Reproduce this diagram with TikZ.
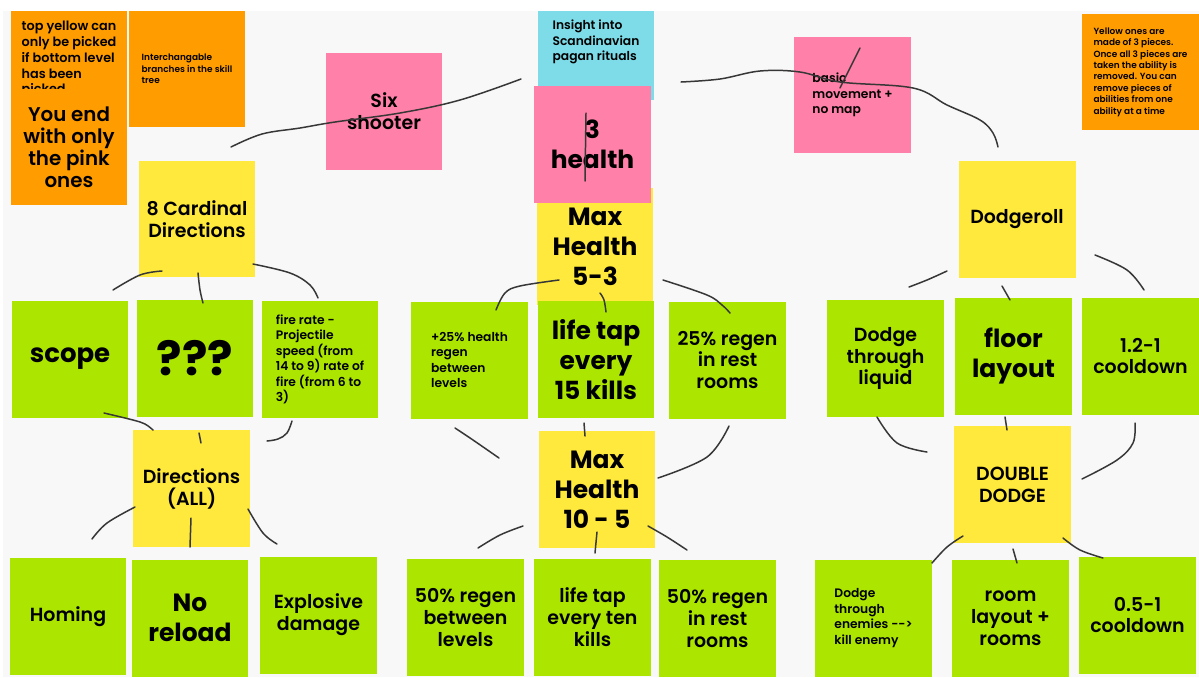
\documentclass[tikz,border=0pt]{standalone}
\usepackage{fontspec}
\setmainfont{Poppins}[BoldFont={* SemiBold}]
\newfontfamily\popB{Poppins Bold}
\definecolor{bggrey}{RGB}{248,248,248}
\definecolor{ngreen}{RGB}{172,230,0}
\definecolor{nyellow}{RGB}{255,233,61}
\definecolor{npink}{RGB}{255,128,169}
\definecolor{ncyan}{RGB}{125,220,232}
\definecolor{norange}{RGB}{255,157,0}
\definecolor{ink}{RGB}{55,55,55}
\tikzset{
  note/.style={draw=none, minimum width=2.34cm, minimum height=2.34cm, inner sep=0pt, outer sep=0pt, text=black},
  gnote/.style={note, fill=ngreen},
  ynote/.style={note, fill=nyellow},
  pnote/.style={note, fill=npink},
  onote/.style={note, fill=norange},
  fXL/.style={font=\fontsize{14.2}{17}\selectfont\popB, align=center},
  fL/.style={font=\fontsize{10.8}{12.5}\selectfont\bfseries, align=center},
  fS/.style={font=\fontsize{7}{8.8}\selectfont\bfseries, align=left},
  fXS/.style={font=\fontsize{5.1}{6.5}\selectfont\bfseries, align=left},
  stroke/.style={draw=ink, line width=0.85pt, line cap=round, line join=round}
}
\begin{document}
\begin{tikzpicture}[x=0.02cm, y=-0.02cm]
\useasboundingbox (0,0) rectangle (1199,677);
\fill[white] (0,0) rectangle (1199,677);
\fill[bggrey] (3,11) rectangle (1199,677);
\begin{scope}
\clip (3,11) rectangle (1199,677);
% orange notes top left
\node[onote] (tyel) at (69,69) {};
\node[fS, anchor=north, font=\fontsize{7.3}{9}\selectfont\bfseries] (tyelt) at (69,15) {top yellow can\\only be picked\\if bottom level\\has been\\picked};
\node[onote, fXS] (inter) at (187,69) {Interchangable\\branches in the skill\\tree};
\node[onote, fL, font=\fontsize{11.3}{12.5}\selectfont\bfseries] (youend) at (69,147) {You end\\with only\\the pink\\ones};
% pink six shooter
\node[pnote, fL] (six) at (384,111.5) {Six\\shooter};
% cyan insight
\node[note, fill=ncyan, fS] (insight) at (596,42) {Insight into\\Scandinavian\\pagan rituals};
% max health 5-3
\node[ynote, fXL] (max53) at (595,246.5) {Max\\Health\\5-3};
% pink 3 health
\node[pnote, fXL] (three) at (592.5,144.5) {3\\health};
% pink basic movement
\node[pnote, fS] (basic) at (852.5,95) {basic\\movement +\\no map};
% orange right
\node[onote, fXS] (yellowones) at (1140.5,72) {Yellow ones are\\made of 3 pieces.\\Once all 3 pieces are\\taken the ability is\\removed. You can\\remove pieces of\\abilities from one\\ability at a time};
% yellow tops
\node[ynote, fL] (dodgeroll) at (1017,219.5) {Dodgeroll};
\node[ynote, fL] (cardinal) at (197,219) {8 Cardinal\\Directions};
% left column
\node[gnote, font=\fontsize{14.8}{17}\selectfont\popB] (scope) at (70,359) {scope};
\node[gnote, font=\fontsize{27}{30}\selectfont\popB] (qqq) at (195,358) {???};
\node[gnote, fS] (fire) at (320,359.5) {fire rate -\\Projectile\\speed (from\\14 to 9) rate of\\fire (from 6 to\\3)};
\node[ynote, fL] (dirall) at (191.5,488.5) {Directions\\(ALL)};
\node[gnote, fL] (homing) at (68,616.5) {Homing};
\node[gnote, fXL] (noreload) at (190,618) {No\\reload};
\node[gnote, fL] (explosive) at (318.5,615) {Explosive\\damage};
% middle column
\node[gnote, fS] (regen25) at (469.5,360) {+25\% health\\regen\\between\\levels};
\node[gnote, fXL] (lifetap15) at (596,359.5) {life tap\\every\\15 kills};
\node[gnote, fL] (rest25) at (727.5,360) {25\% regen\\in rest\\rooms};
\node[ynote, fXL] (max105) at (597,489.5) {Max\\Health\\10 - 5};
\node[gnote, fL] (regen50) at (465.5,617.5) {50\% regen\\between\\levels};
\node[gnote, fL] (lifetap10) at (592.5,617.5) {life tap\\every ten\\kills};
\node[gnote, fL] (rest50) at (717.5,618.5) {50\% regen\\in rest\\rooms};
% right column
\node[gnote, fL] (liquid) at (885.5,358.5) {Dodge\\through\\liquid};
\node[gnote, fXL] (floor) at (1013.5,356) {floor\\layout};
\node[gnote, fL] (cool12) at (1140.5,356) {1.2-1\\cooldown};
\node[ynote, fL] (double) at (1012.5,484.5) {DOUBLE\\DODGE};
\node[gnote, fS] (enemies) at (873.5,618) {Dodge\\through\\enemies -{}->\\kill enemy};
\node[gnote, fL] (room) at (1010.5,618) {room\\layout +\\rooms};
\node[gnote, fL] (cool05) at (1137.5,615) {0.5-1\\cooldown};
% hand-drawn strokes
\draw[stroke] plot[smooth, tension=0.6] coordinates {(231,147) (262,134) (300,128) (335,122) (400,113) (460,100) (521,79)};
\draw[stroke] plot[smooth, tension=0.6] coordinates {(681,82) (720,79) (760,71) (800,72) (840,82) (913,88) (947,105) (980,120) (993,133) (998,147)};
\draw[stroke] (860,48) -- (840,88);
\draw[stroke] (586,113) -- (585,181);
\draw[stroke] plot[smooth, tension=0.6] coordinates {(559,280) (520,286) (505,293) (496,310)};
\draw[stroke] plot[smooth, tension=0.6] coordinates {(600,293) (604,300) (606,312)};
\draw[stroke] plot[smooth, tension=0.6] coordinates {(663,280) (707,295) (722,305) (730,313)};
\draw[stroke] plot[smooth, tension=0.6] coordinates {(162,271) (140,275) (113,290)};
\draw[stroke] plot[smooth, tension=0.6] coordinates {(198,273) (200,290) (203,303)};
\draw[stroke] plot[smooth, tension=0.6] coordinates {(253,264) (290,273) (310,285) (318,298)};
\draw[stroke] plot[smooth, tension=0.6] coordinates {(104,413) (133,420) (145,424) (153,430)};
\draw[stroke] (199,433) -- (201,443);
\draw[stroke] plot[smooth, tension=0.6] coordinates {(292,421) (287,433) (278,439) (267,441)};
\draw[stroke] plot[smooth, tension=0.6] coordinates {(135,507) (107,523) (92,539)};
\draw[stroke] plot[smooth, tension=0.6] coordinates {(191,518) (190,547)};
\draw[stroke] plot[smooth, tension=0.6] coordinates {(248,509) (263,533) (277,544)};
\draw[stroke] plot[smooth, tension=0.6] coordinates {(455,428) (473,440) (499,458)};
\draw[stroke] (584,423) -- (585,436);
\draw[stroke] plot[smooth, tension=0.6] coordinates {(729,426) (707,457) (658,478)};
\draw[stroke] plot[smooth, tension=0.6] coordinates {(523,526) (500,535) (478,548)};
\draw[stroke] (597,532) -- (595,553);
\draw[stroke] plot[smooth, tension=0.6] coordinates {(648,526) (667,537) (687,550)};
\draw[stroke] plot[smooth, tension=0.6] coordinates {(947,271) (927,280) (909,287)};
\draw[stroke] (1002,286) -- (1010,300);
\draw[stroke] plot[smooth, tension=0.6] coordinates {(1095,255) (1127,270) (1144,290)};
\draw[stroke] plot[smooth, tension=0.6] coordinates {(877,417) (897,443) (927,452)};
\draw[stroke] (1005,417) -- (1007,430);
\draw[stroke] plot[smooth, tension=0.6] coordinates {(1135,423) (1133,443) (1117,460) (1082,479)};
\draw[stroke] plot[smooth, tension=0.6] coordinates {(963,536) (947,547) (932,563)};
\draw[stroke] (1013,549) -- (1017,563);
\draw[stroke] plot[smooth, tension=0.6] coordinates {(1063,538) (1080,550) (1103,558)};
\end{scope}
\end{tikzpicture}
\end{document}
